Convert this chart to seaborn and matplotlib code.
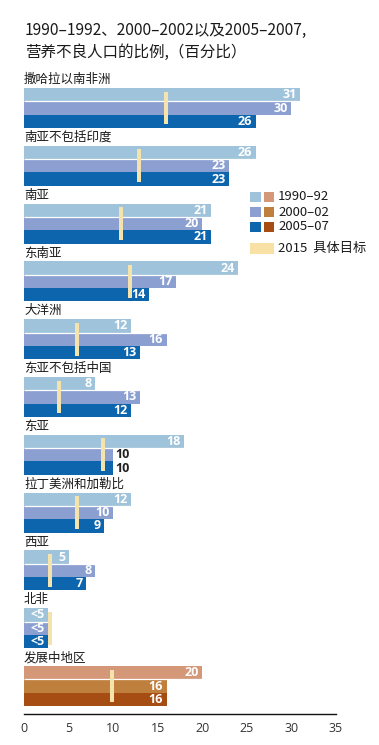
import numpy as np
import pandas as pd
import seaborn as sns
import matplotlib
matplotlib.use("Agg")
import matplotlib.pyplot as plt
from matplotlib.patches import Rectangle

# ---------------- data ----------------
regions = ["撒哈拉以南非洲", "南亚不包括印度", "南亚", "东南亚", "大洋洲", "东亚不包括中国",
           "东亚", "拉丁美洲和加勒比", "西亚", "北非", "发展中地区"]
series = ["1990-92", "2000-02", "2005-07"]
v1990 = [31, 26, 21, 24, 12, 8, 18, 12, 5, 2.7, 20]
v2000 = [30, 23, 20, 17, 16, 13, 10, 10, 8, 2.7, 16]
v2005 = [26, 23, 21, 14, 13, 12, 10, 9, 7, 2.7, 16]
lab1990 = ["31", "26", "21", "24", "12", "8", "18", "12", "5", "<5", "20"]
lab2000 = ["30", "23", "20", "17", "16", "13", "10", "10", "8", "<5", "16"]
lab2005 = ["26", "23", "21", "14", "13", "12", "10", "9", "7", "<5", "16"]
targets = [15.9, 12.9, 10.9, 11.9, 5.9, 3.9, 8.9, 5.9, 2.9, 2.9, 9.9]
xticks = [0, 5, 10, 15, 20, 25, 30, 35]
title_lines = ["1990–1992、2000–2002以及2005–2007,", "营养不良人口的比例,（百分比）"]
target_label = "2015  具体目标"

blues = ["#9fc3da", "#8b9fd1", "#0d65ad"]
browns = ["#d49878", "#bf7f3d", "#a64d14"]
target_color = "#f4e3ad"

# ---------------- figure ----------------
W, H = 379, 745
sns.set_style("white")
plt.rcParams["font.family"] = ["Noto Sans CJK SC", "DejaVu Sans"]

fig = plt.figure(figsize=(W / 100, H / 100), dpi=100)

def fx(px):
    return px / W

def fy(py):
    return 1 - py / H

ax_top, ax_bot = 70, 714
ax = fig.add_axes([fx(24), fy(ax_bot), (336 - 24) / W, (ax_bot - ax_top) / H])

df = pd.DataFrame({
    "region": regions * 3,
    "series": sum([[s] * len(regions) for s in series], []),
    "value": v1990 + v2000 + v2005,
})

bw = 0.692
sns.barplot(data=df, y="region", x="value", hue="series", order=regions,
            hue_order=series, palette=blues, orient="h", width=bw,
            saturation=1, linewidth=0, errorbar=None, legend=False, ax=ax)

# recolour the aggregate region in brown
for j, cont in enumerate(ax.containers):
    cont.patches[len(regions) - 1].set_facecolor(browns[j])

ax.set_xlim(0, 35)
unit = (686 - 108) / 10.0
ax.set_ylim(10 + (ax_bot - 686) / unit, -(108 - ax_top) / unit)

sub = bw / 3
pos = np.arange(len(regions))
# thin white separator between first and second bars
ax.hlines(pos - bw / 2 + sub, 0, np.maximum(v1990, v2000), color="white",
          lw=0.9, zorder=3)

# target markers
ax.bar(targets, height=0.57, bottom=pos - 0.285, width=0.45,
       color=target_color, linewidth=0, zorder=4)

# value labels
for j, (vals, labs) in enumerate(zip([v1990, v2000, v2005], [lab1990, lab2000, lab2005])):
    for i, (v, lab) in enumerate(zip(vals, labs)):
        yc = i - bw / 2 + sub * (j + 0.5)
        if 0 < v - targets[i] < 1.5:
            ax.annotate(lab, (v, yc), xytext=(1.5, 0), textcoords="offset points",
                        ha="left", va="center", fontsize=9, fontweight="bold",
                        family="Open Sans", color="#222222", zorder=6)
        else:
            ax.annotate(lab, (v, yc), xytext=(-2.5, 0), textcoords="offset points",
                        ha="right", va="center", fontsize=9, fontweight="bold",
                        family="Open Sans", color="white", zorder=6)

# group labels
for i, r in enumerate(regions):
    ax.text(0, i - bw / 2 - 0.03, r, ha="left", va="bottom", fontsize=9,
            color="#1a1a1a", zorder=6)

# axes styling
for s in ["top", "right", "left"]:
    ax.spines[s].set_visible(False)
ax.spines["bottom"].set_color("#111111")
ax.spines["bottom"].set_linewidth(1.0)
ax.set_yticks([])
ax.set_xticks(xticks)
ax.set_xticklabels([str(t) for t in xticks], family="Open Sans", fontsize=9,
                   color="#333333")
ax.tick_params(axis="x", length=0, pad=6)
ax.set_xlabel("")
ax.set_ylabel("")
ax.grid(False)

# title
fig.text(fx(25), fy(30), title_lines[0], ha="left", va="center", fontsize=11.2,
         color="#1a1a1a")
fig.text(fx(25), fy(52), title_lines[1], ha="left", va="center", fontsize=11.2,
         color="#1a1a1a")

# legend
rows = [197, 212, 227]
for k, s in enumerate(series):
    fig.add_artist(Rectangle((fx(250), fy(rows[k] + 5)), 11 / W, 10 / H,
                             transform=fig.transFigure, color=blues[k], lw=0))
    fig.add_artist(Rectangle((fx(264), fy(rows[k] + 5)), 10 / W, 10 / H,
                             transform=fig.transFigure, color=browns[k], lw=0))
    fig.text(fx(278), fy(rows[k]), s.replace("-", "–"), ha="left", va="center",
             fontsize=9.5, color="#1a1a1a")
fig.add_artist(Rectangle((fx(250), fy(254)), 24 / W, 11 / H,
                         transform=fig.transFigure, color="#f9e0a4", lw=0))
fig.text(fx(278), fy(248), target_label, ha="left", va="center", fontsize=9.5,
         color="#1a1a1a")

fig.savefig("out.png", dpi=100)
